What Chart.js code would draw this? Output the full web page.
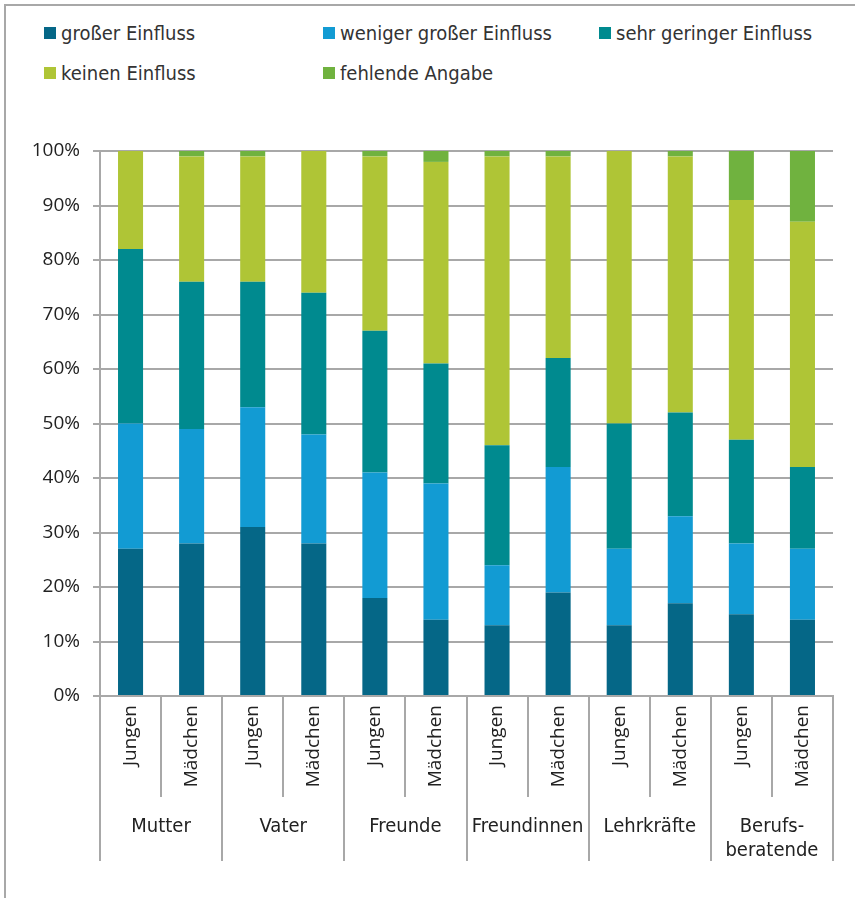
<!DOCTYPE html>
<html>
<head>
<meta charset="utf-8">
<script src="https://cdn.jsdelivr.net/npm/chart.js@4.4.1/dist/chart.umd.min.js"></script>
<style>
  html, body { margin: 0; padding: 0; background: #fff; }
  #wrap { position: relative; width: 855px; height: 898px; overflow: hidden; }
  #frame { position: absolute; left: 4px; top: 4px; width: 900px; height: 950px;
           border-top: 2px solid #a8a8a8; border-left: 2px solid #a8a8a8; }
  #legend { position: absolute; left: 44px; top: 21px;
            display: grid; grid-template-columns: 279px 276px auto; row-gap: 16px;
            font-family: "Liberation Sans Narrow", "DejaVu Sans Condensed", sans-serif;
            font-size: 20px; color: #333; }
  #legend div { display: flex; align-items: center; white-space: nowrap; height: 24px; }
  #legend span.box { display: inline-block; width: 12px; height: 12px; margin-right: 5px; }
  canvas { position: absolute; left: 0; top: 0; }
</style>
</head>
<body>
<div id="wrap">
  <div id="frame"></div>
  <div id="legend"></div>
  <canvas id="chart" width="855" height="898"></canvas>
</div>
<script>
// sub categories (one bar each) and groups
var subLabels = ['Jungen', 'Mädchen', 'Jungen', 'Mädchen', 'Jungen', 'Mädchen',
                 'Jungen', 'Mädchen', 'Jungen', 'Mädchen', 'Jungen', 'Mädchen'];
var groupLabels = ['Mutter', 'Vater', 'Freunde', 'Freundinnen', 'Lehrkräfte', ['Berufs-', 'beratende']];

var seriesNames = ['großer Einfluss', 'weniger großer Einfluss', 'sehr geringer Einfluss',
                   'keinen Einfluss', 'fehlende Angabe'];
var seriesColors = ['#056787', '#129bd3', '#008a8f', '#afc536', '#70b23f'];

// values in percent
var grosser   = [27, 28, 31, 28, 18, 14, 13, 19, 13, 17, 15, 14];
var weniger   = [23, 21, 22, 20, 23, 25, 11, 23, 14, 16, 13, 13];
var gering    = [32, 27, 23, 26, 26, 22, 22, 20, 23, 19, 19, 15];
var keinen    = [18, 23, 23, 26, 32, 37, 53, 37, 50, 47, 44, 45];
var fehlend   = [0, 1, 1, 0, 1, 2, 1, 1, 0, 1, 9, 13];

var yTicks = [0, 10, 20, 30, 40, 50, 60, 70, 80, 90, 100];

var allSeries = [grosser, weniger, gering, keinen, fehlend];

// legend
var legend = document.getElementById('legend');
seriesNames.forEach(function (name, i) {
  var item = document.createElement('div');
  item.innerHTML = '<span class="box" style="background:' + seriesColors[i] + '"></span>' + name;
  legend.appendChild(item);
});

var gridColor = '#a8a8a8';
var tickFont = { family: '"Open Sans", "DejaVu Sans", sans-serif', size: 19 };

var ctx = document.getElementById('chart').getContext('2d');
var chart = new Chart(ctx, {
  type: 'bar',
  data: {
    labels: subLabels,
    datasets: allSeries.map(function (vals, i) {
      return {
        label: seriesNames[i],
        data: vals,
        backgroundColor: seriesColors[i],
        borderWidth: 0,
        categoryPercentage: 1,
        barPercentage: 0.41
      };
    })
  },
  options: {
    responsive: false,
    animation: false,
    layout: { padding: { left: 0, right: 22, top: 151, bottom: 37 } },
    plugins: { legend: { display: false }, tooltip: { enabled: false } },
    scales: {
      x: {
        stacked: true,
        grid: { offset: true, drawOnChartArea: false, drawTicks: true, tickLength: 101,
                color: gridColor, lineWidth: 2 },
        border: { display: true, color: gridColor, width: 2 },
        ticks: { minRotation: 90, maxRotation: 90, padding: -92, color: '#222', font: tickFont },
        afterFit: function (s) { s.height = 101; }
      },
      x2: {
        type: 'category',
        position: 'bottom',
        labels: groupLabels,
        offset: true,
        grid: { offset: true, drawOnChartArea: false, drawTicks: true, tickLength: 64,
                color: gridColor, lineWidth: 2 },
        border: { display: false },
        ticks: { maxRotation: 0, minRotation: 0, padding: -46, color: '#222',
                 font: { family: '"Liberation Sans Narrow", "DejaVu Sans Condensed", sans-serif', size: 20 },
                 autoSkip: false },
        afterFit: function (s) { s.height = 64; }
      },
      y: {
        stacked: true,
        min: 0,
        max: 100,
        afterBuildTicks: function (s) { s.ticks = yTicks.map(function (v) { return { value: v }; }); },
        grid: { color: gridColor, lineWidth: 2, tickLength: 7 },
        border: { display: true, color: gridColor, width: 2 },
        ticks: { padding: 13, color: '#222', font: tickFont,
                 callback: function (v) { return v + '%'; } },
        afterFit: function (s) { s.width = 100; }
      }
    }
  }
});
</script>
</body>
</html>
